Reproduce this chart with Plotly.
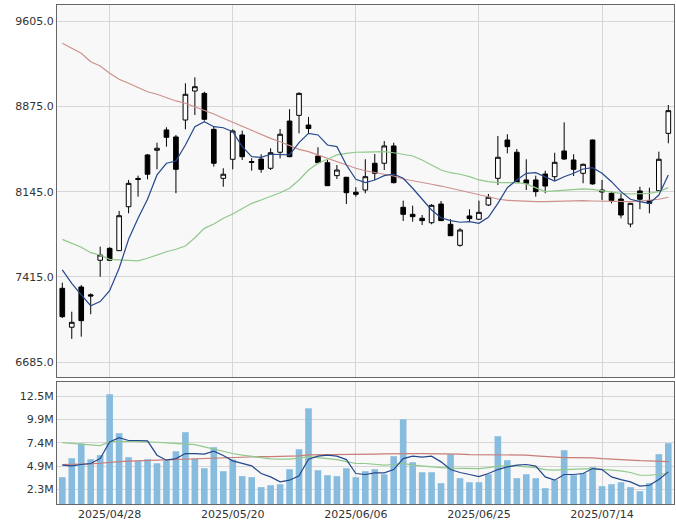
import plotly.graph_objects as go

dates = [
    "2025/04/21", "2025/04/22", "2025/04/23", "2025/04/24", "2025/04/25", "2025/04/28", "2025/04/30",
    "2025/05/01", "2025/05/02", "2025/05/07", "2025/05/08", "2025/05/09", "2025/05/12", "2025/05/13",
    "2025/05/14", "2025/05/15", "2025/05/16", "2025/05/19", "2025/05/20", "2025/05/21", "2025/05/22",
    "2025/05/23", "2025/05/26", "2025/05/27", "2025/05/28", "2025/05/29", "2025/05/30",
    "2025/06/02", "2025/06/03", "2025/06/04", "2025/06/05", "2025/06/06", "2025/06/09", "2025/06/10",
    "2025/06/11", "2025/06/12", "2025/06/13", "2025/06/16", "2025/06/17", "2025/06/18", "2025/06/19",
    "2025/06/20", "2025/06/23", "2025/06/24", "2025/06/25", "2025/06/26", "2025/06/27", "2025/06/30",
    "2025/07/01", "2025/07/02", "2025/07/03", "2025/07/04", "2025/07/07", "2025/07/08", "2025/07/09",
    "2025/07/10", "2025/07/11", "2025/07/14", "2025/07/15", "2025/07/16", "2025/07/17", "2025/07/18",
    "2025/07/22", "2025/07/23", "2025/07/24",
]

tick_dates = ["2025/04/28", "2025/05/20", "2025/06/06", "2025/06/25", "2025/07/14"]

opens = [7318, 6985, 7329, 7262, 7558, 7660, 7640, 8016, 8258, 8459, 8499, 8673, 8613, 8758, 9006,
         8986, 8678, 8259, 8422, 8630, 8402, 8424, 8345, 8482, 8749, 8798, 8715, 8450, 8393, 8282,
         8268, 8140, 8159, 8388, 8388, 8536, 8011, 7951, 7917, 7879, 8039, 7866, 7686, 7937, 7909,
         8031, 8259, 8587, 8482, 8245, 8245, 8296, 8273, 8493, 8416, 8302, 8587, 8142, 8131, 8082,
         7868, 8151, 8068, 8153, 8644]
highs = [7366, 7118, 7346, 7275, 7674, 7669, 7980, 8245, 8282, 8467, 8564, 8696, 8630, 9072, 9123,
         9000, 8701, 8345, 8678, 8667, 8430, 8465, 8516, 8681, 8850, 8995, 8784, 8525, 8416, 8373,
         8270, 8182, 8422, 8467, 8578, 8564, 8068, 8025, 7945, 8039, 8065, 7909, 7832, 7994, 8068,
         8125, 8621, 8636, 8510, 8422, 8282, 8324, 8478, 8738, 8465, 8385, 8590, 8245, 8145, 8131,
         8048, 8187, 8179, 8487, 8886]
lows = [7064, 6885, 6904, 7096, 7417, 7552, 7640, 7960, 8102, 8251, 8336, 8530, 8131, 8678, 8801,
        8752, 8359, 8187, 8336, 8416, 8324, 8307, 8330, 8430, 8440, 8644, 8647, 8390, 8193, 8253,
        8039, 8102, 8131, 8245, 8330, 8215, 7894, 7888, 7860, 7866, 7894, 7766, 7674, 7885, 7903,
        8022, 8202, 8473, 8219, 8159, 8102, 8131, 8239, 8416, 8279, 8217, 8205, 8074, 8045, 7917,
        7840, 7994, 7960, 8150, 8559]
closes = [7075, 7027, 7041, 7252, 7603, 7558, 7939, 8216, 8250, 8294, 8516, 8610, 8336, 8978, 9043,
          8764, 8388, 8294, 8664, 8444, 8396, 8336, 8478, 8636, 8444, 8986, 8685, 8393, 8196, 8330,
          8136, 8122, 8273, 8302, 8536, 8222, 7951, 7931, 7897, 8028, 7897, 7768, 7817, 7914, 7968,
          8097, 8439, 8530, 8222, 8217, 8145, 8193, 8396, 8424, 8336, 8379, 8211, 8159, 8068, 7945,
          8045, 8080, 8045, 8422, 8838]

ma5 = [7475, 7361, 7261, 7169, 7204, 7298, 7489, 7737, 7917, 8080, 8288, 8388, 8407, 8544, 8701,
       8744, 8701, 8692, 8658, 8530, 8444, 8439, 8465, 8459, 8459, 8564, 8644, 8630, 8544, 8530,
       8373, 8251, 8222, 8245, 8282, 8296, 8259, 8174, 8080, 7988, 7922, 7897, 7883, 7888, 7874,
       7925, 8045, 8179, 8245, 8302, 8307, 8273, 8236, 8273, 8302, 8339, 8350, 8302, 8230, 8145,
       8080, 8059, 8045, 8116, 8288]
ma25 = [7737, 7703, 7669, 7623, 7603, 7566, 7560, 7555, 7552, 7575, 7603, 7631, 7652, 7680, 7751,
        7831, 7868, 7917, 7954, 8003, 8045, 8074, 8102, 8136, 8174, 8245, 8330, 8388, 8422, 8459,
        8473, 8482, 8484, 8487, 8487, 8478, 8465, 8450, 8416, 8373, 8330, 8307, 8294, 8273, 8245,
        8230, 8222, 8222, 8222, 8211, 8179, 8145, 8151, 8157, 8162, 8168, 8165, 8153, 8140, 8131,
        8125, 8131, 8131, 8145, 8179]
ma75 = [9414, 9371, 9329, 9257, 9220, 9158, 9106, 9072, 9038, 9000, 8978, 8949, 8921, 8901, 8872,
        8844, 8809, 8773, 8738, 8707, 8667, 8630, 8601, 8572, 8536, 8507, 8487, 8459, 8430, 8401,
        8373, 8345, 8324, 8307, 8296, 8279, 8253, 8236, 8222, 8208, 8193, 8174, 8153, 8136, 8116,
        8097, 8082, 8071, 8065, 8062, 8059, 8059, 8062, 8062, 8065, 8068, 8065, 8062, 8059, 8059,
        8059, 8065, 8071, 8080, 8097]

# volume in millions of shares
volume = [3.65, 5.72, 7.32, 5.61, 6.05, 12.70, 8.45, 5.83, 5.43, 5.61, 5.17, 5.46, 6.48, 8.56, 5.65,
          4.63, 6.92, 4.30, 5.57, 3.76, 3.65, 2.56, 2.77, 2.88, 4.52, 6.70, 11.17, 4.41, 3.86, 3.76,
          4.63, 3.65, 4.30, 4.52, 3.97, 5.94, 9.97, 5.28, 4.19, 4.19, 2.99, 6.16, 3.54, 3.10, 3.10,
          3.97, 8.12, 5.50, 3.54, 3.97, 3.54, 2.45, 3.32, 6.59, 3.86, 4.08, 4.74, 2.67, 2.88, 3.10,
          2.56, 2.12, 2.99, 6.16, 7.36]
vol_ma5 = [4.96, 4.88, 5.03, 5.14, 5.68, 7.50, 7.97, 7.65, 7.65, 7.61, 6.05, 5.50, 5.68, 6.23, 6.23,
           6.16, 6.48, 6.01, 5.43, 5.14, 4.88, 4.05, 3.68, 3.14, 3.32, 3.79, 5.61, 5.94, 6.05, 5.94,
           5.57, 4.05, 3.94, 4.12, 4.12, 4.48, 5.68, 5.94, 5.83, 5.94, 5.32, 4.48, 4.16, 3.94, 3.72,
           4.05, 4.48, 4.77, 4.96, 5.03, 4.85, 3.68, 3.32, 3.94, 3.94, 4.05, 4.59, 4.48, 3.68, 3.39,
           3.14, 2.67, 2.77, 3.39, 4.23]
vol_ma25 = [7.43, 7.35, 7.28, 7.21, 7.10, 7.50, 7.57, 7.57, 7.54, 7.54, 7.46, 7.39, 7.32, 7.32, 7.21,
            6.95, 6.70, 6.48, 6.23, 6.05, 5.90, 5.79, 5.65, 5.61, 5.61, 5.72, 5.90, 5.79, 5.72, 5.57,
            5.35, 5.14, 5.14, 5.03, 4.96, 5.03, 5.14, 4.96, 4.85, 4.77, 4.70, 4.63, 4.59, 4.59, 4.59,
            4.70, 4.85, 4.88, 4.88, 4.77, 4.70, 4.48, 4.41, 4.48, 4.56, 4.56, 4.59, 4.52, 4.41, 4.34,
            4.16, 3.86, 3.86, 3.94, 4.05]
vol_ma75 = [5.03, 5.03, 5.06, 5.10, 5.17, 5.28, 5.35, 5.39, 5.43, 5.43, 5.46, 5.50, 5.57, 5.65, 5.65,
            5.72, 5.76, 5.79, 5.83, 5.86, 5.90, 5.90, 5.90, 5.90, 5.90, 5.97, 6.08, 6.08, 6.08, 6.08,
            6.08, 6.08, 6.12, 6.16, 6.19, 6.23, 6.23, 6.23, 6.23, 6.23, 6.19, 6.16, 6.16, 6.12, 6.12,
            6.08, 6.08, 6.08, 6.08, 6.05, 5.97, 5.90, 5.83, 5.79, 5.79, 5.79, 5.76, 5.68, 5.61, 5.57,
            5.54, 5.46, 5.43, 5.35, 5.35]

price_ticks = [6685.0, 7415.0, 8145.0, 8875.0, 9605.0]
vol_tick_vals = [2.32, 4.86, 7.40, 9.94, 12.48]
vol_tick_text = ["2.3M", "4.9M", "7.4M", "9.9M", "12.5M"]

BLUE = "rgb(38,72,140)"
GREEN = "rgb(145,200,140)"
RED = "rgb(205,145,140)"
RED_V = "rgb(200,125,120)"
BAR = "rgb(136,188,222)"
GRID = "#d6d6d6"
FRAME = "#666666"
FONT = dict(family="DejaVu Sans", size=11, color="#333333")

fig = go.Figure()

fig.add_trace(go.Candlestick(
    x=dates, open=opens, high=highs, low=lows, close=closes,
    xaxis="x", yaxis="y",
    increasing=dict(line=dict(color="black", width=1), fillcolor="white"),
    decreasing=dict(line=dict(color="black", width=1), fillcolor="black"),
    whiskerwidth=0, showlegend=False,
))
for vals, col in [(ma75, RED), (ma25, GREEN), (ma5, BLUE)]:
    fig.add_trace(go.Scatter(x=dates, y=vals, mode="lines", line=dict(color=col, width=1.2),
                             xaxis="x", yaxis="y", showlegend=False, hoverinfo="skip"))

fig.add_trace(go.Bar(x=dates, y=volume, marker=dict(color=BAR, line=dict(width=0)),
                     xaxis="x2", yaxis="y2", showlegend=False))
for vals, col in [(vol_ma75, RED_V), (vol_ma25, GREEN), (vol_ma5, BLUE)]:
    fig.add_trace(go.Scatter(x=dates, y=vals, mode="lines", line=dict(color=col, width=1.2),
                             xaxis="x2", yaxis="y2", showlegend=False, hoverinfo="skip"))

xcommon = dict(
    type="category", categoryorder="array", categoryarray=dates,
    range=[-0.56, 64.6], tickvals=tick_dates, ticktext=tick_dates,
    showgrid=True, gridcolor=GRID, gridwidth=1, zeroline=False,
    showline=True, mirror=True, linecolor=FRAME, linewidth=1,
    ticks="", tickfont=FONT, automargin=False, fixedrange=True,
)

fig.update_layout(
    width=676, height=521,
    margin=dict(l=57, r=2, t=5, b=17),
    paper_bgcolor="white", plot_bgcolor="#f8f8f8",
    bargap=0.3, boxgap=0.3,
    font=FONT,
    xaxis=dict(xcommon, domain=[0, 1], anchor="y", showticklabels=False,
               rangeslider=dict(visible=False)),
    xaxis2=dict(xcommon, domain=[0, 1], anchor="y2", showticklabels=True, matches="x"),
    yaxis=dict(domain=[0.2545, 1.0], range=[6559, 9742], tickvals=price_ticks,
               tickformat=".1f", showgrid=True, gridcolor=GRID, zeroline=False,
               showline=True, mirror=True, linecolor=FRAME, linewidth=1,
               ticks="", tickfont=FONT, automargin=False, fixedrange=True),
    yaxis2=dict(domain=[0, 0.2445], range=[0.72, 14.04], tickvals=vol_tick_vals,
                ticktext=vol_tick_text, showgrid=True, gridcolor=GRID, zeroline=False,
                showline=True, mirror=True, linecolor=FRAME, linewidth=1,
                ticks="", tickfont=FONT, automargin=False, fixedrange=True),
)

fig.write_html(
    "out.html",
    config={"displayModeBar": False},
    post_script="document.body.style.margin='0px';document.body.style.overflow='hidden';",
)
